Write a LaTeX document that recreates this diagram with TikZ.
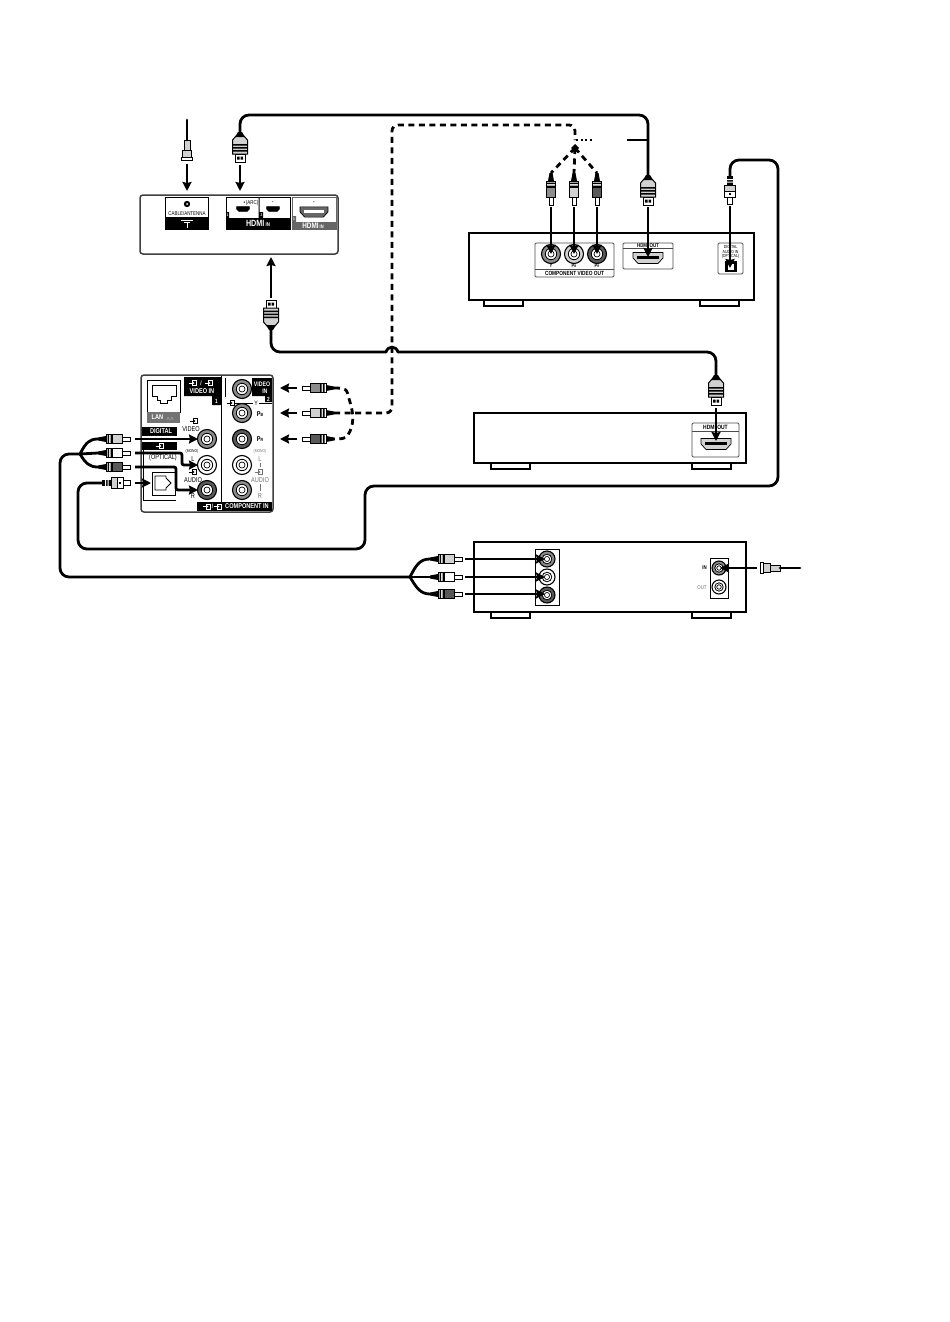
\documentclass[tikz,border=0pt]{standalone}
\usepackage{fontspec}
\setmainfont{Liberation Sans}
\usetikzlibrary{arrows.meta}
\definecolor{midg}{gray}{0.55}
\definecolor{darkg}{gray}{0.35}
\definecolor{lightg}{gray}{0.82}
\tikzset{
  cable/.style={line width=2.8pt,black,line cap=round},
  dashcable/.style={line width=2.8pt,black,dash pattern=on 6pt off 4.5pt},
  arr/.style={line width=2.8pt,black,-{Stealth[length=9pt,width=9pt,inset=1pt]}},
  halo/.style={line width=5.5pt,white},
  box/.style={draw=black,line width=2pt,fill=white},
  foot/.style={draw=black,line width=1.6pt,fill=white},
  panel/.style={draw=black!70,line width=.8pt,rounded corners=1.2pt,fill=white},
  tvpanel/.style={draw=black!75,line width=1.5pt,rounded corners=3pt,fill=white},
  blk/.style={fill=black,draw=none},
  lbl/.style={font=\fontsize{#1}{#1}\selectfont,inner sep=0pt,align=center,xscale=.8,transform shape},
  lbl/.default=6,
  wlbl/.style={lbl=#1,text=white,font=\bfseries\fontsize{#1}{#1}\selectfont},
  wlbl/.default=6,
  glbl/.style={lbl=#1,text=black!55},
  glbl/.default=6,
  pics/ringjack/.style args={#1/#2}{code={
    \path[fill=#1,draw=black,line width=1.1pt] (0,0) circle[radius=#2];
    \path[fill=white,draw=black,line width=.8pt] (0,0) circle[radius=#2*.6];
    \path[draw=black,line width=.7pt] (0,0) circle[radius=#2*.32];
  }},
  pics/rca/.style={code={
    \path[fill=black] (-32,-1.5) -- (-24,-3) -- (-24,3) -- (-32,1.5) -- cycle;
    \path[fill=white,draw=black,line width=.7pt] (-8,-2) rectangle (0,2);
    \path[fill=#1,draw=black,line width=.8pt] (-24,-4.5) rectangle (-8,4.5);
    \path[fill=white,draw=black,line width=.6pt] (-24,-4.5) rectangle (-18,4.5);
    \path[fill=black] (-22.5,-4.5) rectangle (-20.8,4.5) (-19.5,-4.5) rectangle (-18,4.5);
    \coordinate (-tail) at (-32,0);
    \coordinate (-tip) at (0,0);
  }},
  pics/hdmiplug/.style={code={
    \path[fill=white,draw=black,line width=1pt] (-8,-5) rectangle (0,5);
    \path[fill=black] (-5.5,-3) rectangle (-2.5,-.5) (-5.5,.5) rectangle (-2.5,3);
    \path[fill=lightg,draw=black,line width=1pt] (-26,-4) -- (-22,-7.5) -- (-8,-7.5) -- (-8,7.5) -- (-22,7.5) -- (-26,4) -- cycle;
    \path[fill=black] (-18,-7.5) rectangle (-16.5,7.5) (-15,-7.5) rectangle (-13.5,7.5) (-12,-7.5) rectangle (-10.5,7.5);
    \path[fill=black] (-30,-2) -- (-25,-5) -- (-25,5) -- (-30,2) -- cycle;
    \coordinate (-tail) at (-30,0);
    \coordinate (-tip) at (0,0);
  }},
  pics/optplug/.style={code={
    \path[fill=white,draw=black,line width=.8pt] (-7,-2.2) rectangle (0,2.2);
    \path[fill=white,draw=black,line width=.9pt] (-19,-5.5) rectangle (-7,5.5);
    \path[fill=lightg,draw=black,line width=.7pt] (-19,-5.5) rectangle (-13,5.5);
    \path[fill=black] (-11,-.8) rectangle (-9.5,.8);
    \path[fill=black] (-28,-3) rectangle (-19,3);
    \path[fill=white] (-25,-3) rectangle (-24,3) (-22.5,-3) rectangle (-21.5,3);
    \coordinate (-tail) at (-28,0);
    \coordinate (-tip) at (0,0);
  }},
  pics/coax/.style={code={
    \path[fill=white,draw=black,line width=.8pt] (-3,-5.5) rectangle (0,5.5);
    \path[fill=lightg,draw=black,line width=.8pt] (-10,-4.5) rectangle (-3,4.5);
    \path[fill=lightg,draw=black,line width=.8pt] (-20,-3) rectangle (-10,3);
    \coordinate (-tail) at (-20,0);
    \coordinate (-tip) at (0,0);
  }},
  pics/hdmiport/.style 2 args={code={
    \path[fill=#1,draw=black,line width=.7pt] (-15,-5.5) -- (15,-5.5) -- (15,0) -- (10,5.5) -- (-10,5.5) -- (-15,0) -- cycle;
    \path[fill=#2] (-11,-2) rectangle (11,1);
  }},
  pics/inicon/.style={code={
    \path[draw=#1,line width=.7pt] (-1,-2.4) rectangle (3.5,2.4);
    \path[draw=#1,line width=.7pt,-{Stealth[length=2.2pt,width=2.8pt]}] (-4.5,0) -- (1.5,0);
  }},
}
\begin{document}
\begin{tikzpicture}[x=1pt,y=-1pt]
\useasboundingbox (0,0) rectangle (950,1322);
\fill[white] (0,0) rectangle (950,1322);

%% ---------- TV top panel ----------
\path[tvpanel] (140,195) rectangle (338,254);
\path[draw=black,fill=white,line width=.6pt] (165,197) rectangle (208,229);
\path[blk] (165,217) rectangle (208,229);
\path[fill=black] (187,204) circle[radius=3.2];
\path[fill=white] (187,204) circle[radius=1];
\node[lbl=5.6] (tCable) at (187,213) {CABLE/ANTENNA};
\path[draw=white,line width=1pt] (181,220) -- (193,220) (184,222) -- (190,222) (187,222) -- (187,228);
\path[draw=black,line width=.6pt] (226,197) rectangle (290,229);
\path[blk] (226,218) rectangle (290,229) (226,212) rectangle (229,218) (258.5,197) rectangle (259.5,218) (259.5,212) rectangle (263,218);
\node[wlbl=4] (tOne) at (227.5,214.8) {1};
\node[wlbl=4] (tTwo) at (261.5,214.8) {2};
\pic[scale=.42] at (243,209) {hdmiport={black}{black}};
\pic[scale=.42] at (273,209) {hdmiport={black}{black}};
\node[lbl=5.6] (tArc) at (251,203.5) {\textbullet\,(ARC)};
\node[lbl=4] (tDot) at (273,203) {\textbullet};
\node[wlbl=9] (tHdmiA) at (258,223.7) {HDMI\,\fontsize{5.5}{5.5}\selectfont IN};
\path[draw=black!60,line width=.6pt,fill=white] (292,197) rectangle (336,229);
\path[fill=black!60] (292,222) rectangle (336,229) (292,216) rectangle (296,222);
\pic[scale=.93] at (314,212) {hdmiport={black!60}{white}};
\node[lbl=4] (tDotB) at (314,203) {\textbullet};
\node[wlbl=8] (tHdmiB) at (313,225.7) {HDMI\,\fontsize{5}{5}\selectfont IN};
\node[wlbl=3.5] (tThree) at (294,219) {3};

%% ---------- TV side panel ----------
\path[tvpanel] (141,375) rectangle (273,512);
\path[draw=black,line width=.9pt] (221,376) -- (221,504);
\path[draw=black,line width=.8pt,fill=white] (147,380) rectangle (180,412);
\path[fill=black!55] (147,412) rectangle (180,423);
\path[draw=black,line width=.7pt] (152,385) -- (176,385) -- (176,396) -- (171,396) -- (171,400) -- (167,400) -- (167,403) -- (160,403) -- (160,400) -- (157,400) -- (157,396) -- (152,396) -- cycle;
\node[wlbl=7] (tLan) at (163,417.5) {LAN\ \ ${}_{\scriptscriptstyle\wedge\wedge}$};
\path[blk] (184,377) rectangle (221,396) (212,396) rectangle (221,405);
\pic at (193,383) {inicon=white};
\node[wlbl=6] (tSl) at (201,383) {/};
\pic at (209,383) {inicon=white};
\node[wlbl=7] (tVidIn) at (202,391) {VIDEO IN};
\node[wlbl=6] (tVOne) at (216.5,401) {1};
\path[blk] (142,427) rectangle (177,450);
\node[wlbl=7] (tDig) at (161,431) {DIGITAL};
\node[wlbl=6] (tAudioOut) at (160,438) {AUDIO OUT};
\pic at (160,446) {inicon=white};
\node[lbl=7] (tOpt) at (163,458) {(OPTICAL)};
\path[draw=black,line width=.6pt] (143,450) -- (143,500) -- (176,500);
\path[draw=black,line width=1pt,fill=white] (152,472) rectangle (175,495);
\path[draw=black,line width=.9pt] (155,476) -- (166,476) -- (166,478) -- (171,483) -- (166,488) -- (166,490) -- (155,490) -- cycle;
\pic at (194,421) {inicon=black};
\node[lbl=7] (tVid) at (191,429) {VIDEO};
\node[lbl=4.2] (tMono) at (192,451) {(MONO)};
\node[lbl=7] (tL) at (193,459) {L};
\pic at (193,472) {inicon=black};
\node[lbl=7] (tAud) at (193,480) {AUDIO};
\node[lbl=7] (tR) at (193,496) {R};
\pic at (207,439) {ringjack={midg/9.5}};
\pic at (207,465) {ringjack={white/9.5}};
\pic at (207,490) {ringjack={darkg/9.5}};
\coordinate (jV) at (198,439);
\coordinate (jL) at (198,465);
\coordinate (jR) at (198,490);
\pic at (242,389) {ringjack={midg/9.5}};
\pic at (242,413) {ringjack={midg/9.5}};
\pic at (242,439) {ringjack={darkg/9.5}};
\pic at (242,465) {ringjack={white/9.5}};
\pic at (242,490) {ringjack={black!45/9.5}};
\path[blk] (252,378) rectangle (272,396) (265,396) rectangle (272,402);
\node[wlbl=6.5] (tVI2) at (262,387.5) {VIDEO\\[.5pt]\ \ \ \ IN};
\node[wlbl=6] (tVTwo) at (268.5,399) {2};
\path[draw=black,line width=.6pt] (225,378) -- (225,397);
\path[draw=black,line width=.6pt] (235,403) -- (253,403) (259,403) -- (272,403);
\pic at (231,403) {inicon=black};
\node[lbl=6.5] (tY) at (256,403) {Y};
\node[lbl=7] (tPb) at (260,414) {\textbf{P}\fontsize{4.5}{4.5}\selectfont\textbf{B}};
\node[lbl=7] (tPr) at (260,439) {\textbf{P}\fontsize{4.5}{4.5}\selectfont\textbf{R}};
\node[glbl=4.2] (tMonoB) at (260,451) {(MONO)};
\node[glbl=7] (tLB) at (260,459) {L};
\path[draw=black!55,line width=.5pt] (260,463) -- (260,467) (260,484) -- (260,491);
\pic at (259,472) {inicon={black!55}};
\node[glbl=7] (tAudB) at (260,480) {AUDIO};
\node[glbl=7] (tRB) at (260,496) {R};
\path[blk] (197,502) rectangle (272,511);
\pic at (207,506.5) {inicon=white};
\node[wlbl=6] (tCSl) at (212.5,506.5) {/};
\pic at (218,506.5) {inicon=white};
\node[wlbl=7] (tCompIn) at (247,506.5) {COMPONENT IN};

%% ---------- Player 1 ----------
\path[foot] (484,300) rectangle (523,306);
\path[foot] (700,300) rectangle (739,306);
\path[box] (469,233) rectangle (754,300);
\path[panel] (535,243) rectangle (614,277);
\path[draw=black!70,line width=.7pt] (535,269) -- (614,269);
\pic at (551,254) {ringjack={midg/9.5}};
\pic at (574,254) {ringjack={lightg/9.5}};
\pic at (597,254) {ringjack={darkg/9.5}};
\coordinate (oY) at (551,254);
\coordinate (oB) at (574,254);
\coordinate (oR) at (597,254);
\node[lbl=5] (toY) at (551,265.8) {\textbf{Y}};
\node[lbl=5] (toB) at (574,265.8) {\textbf{P}\fontsize{3.5}{3.5}\selectfont\textbf{B}};
\node[lbl=5] (toR) at (597,265.8) {\textbf{P}\fontsize{3.5}{3.5}\selectfont\textbf{R}};
\node[lbl=6] (tCvo) at (574.5,273) {\textbf{COMPONENT VIDEO OUT}};
\path[panel] (623,243) rectangle (673,269);
\path[draw=black!70,line width=.7pt] (623,248) -- (673,248);
\node[lbl=5.5] (tHo) at (648,245.6) {\textbf{HDMI OUT}};
\pic at (648,258) {hdmiport={lightg}{black}};
\coordinate (oH) at (648,257);
\path[panel] (718,243) rectangle (743,274);
\node[lbl=4.4] (tDao) at (730.5,252) {DIGITAL\\[-.2pt]AUDIO IN\\[-.2pt](OPTICAL)};
\path[fill=black] (725,261) rectangle (737,272);
\path[fill=white] (728,264) rectangle (734,270);
\coordinate (oO) at (730,268);

%% ---------- Player 2 ----------
\path[foot] (491,463) rectangle (530,469);
\path[foot] (692,463) rectangle (731,469);
\path[box] (474,413) rectangle (746,463);
\path[panel] (692,423) rectangle (739,457);
\path[draw=black!70,line width=.7pt] (692,431) -- (739,431);
\node[lbl=6.2] (tHoB) at (715.5,427.2) {\textbf{HDMI OUT}};
\pic at (716,444) {hdmiport={lightg}{black}};
\coordinate (oH2) at (716,441);

%% ---------- Player 3 ----------
\path[foot] (491,612) rectangle (530,618);
\path[foot] (692,612) rectangle (731,618);
\path[box] (474,542) rectangle (746,612);
\path[draw=black,line width=.8pt,fill=white] (535,549) rectangle (559,605);
\pic at (547,559) {ringjack={midg/8}};
\pic at (547,577) {ringjack={white/8}};
\pic at (547,595) {ringjack={darkg/8}};
\coordinate (oA) at (545,559);
\coordinate (oC) at (545,577);
\coordinate (oD) at (545,594);
\path[draw=black,line width=.8pt,fill=white] (710,558) rectangle (728,598);
\pic at (719,568) {ringjack={midg/7}};
\pic at (719,587) {ringjack={white/7}};
\coordinate (oIn) at (720,568);
\node[lbl=5.5] (tIn) at (704.5,568) {\textbf{IN}};
\node[glbl=5.5] (tOut) at (702,588) {OUT};

%% ---------- Plugs ----------
\pic (pCoaxA) at (187,160) [rotate=-90] {coax};
\pic (pHa) at (240,162) [rotate=-90] {hdmiplug};
\pic (pHb) at (648,205) [rotate=-90] {hdmiplug};
\pic (pHc) at (271,300) [rotate=90] {hdmiplug};
\pic (pHd) at (716,405) [rotate=-90] {hdmiplug};
\pic (pOa) at (730,204) [rotate=-90] {optplug};
\pic (pOb) at (130,483) {optplug};
\pic (pY) at (551,205) [rotate=-90] {rca=midg};
\pic (pB) at (574,205) [rotate=-90] {rca=lightg};
\pic (pR) at (597,205) [rotate=-90] {rca=darkg};
\pic (pTa) at (130,439) {rca=lightg};
\pic (pTb) at (130,453) {rca=white};
\pic (pTc) at (130,467) {rca=darkg};
\pic (pCa) at (302,388) [rotate=180] {rca=midg};
\pic (pCb) at (302,413) [rotate=180] {rca=lightg};
\pic (pCc) at (302,439) [rotate=180] {rca=darkg};
\pic (pDa) at (462,559) {rca=lightg};
\pic (pDb) at (462,577) {rca=white};
\pic (pDc) at (462,594) {rca=darkg};
\pic (pCoaxB) at (760,568) [rotate=180] {coax};

%% ---------- Named free ends ----------
\coordinate (coaxTop) at (187,120);
\coordinate (coaxEnd) at (800,568);
\coordinate (tvTop) at (271,257);
\coordinate (hubTop) at (575,148);
\coordinate (dashEnd) at (575,140);
\coordinate (leader) at (627,140);
\coordinate (leaderEnd) at (648,140);
\coordinate (join) at (80,454);
\coordinate (joinD) at (410,577);
\coordinate (humpA) at (386,352);
\coordinate (humpB) at (398,352);

%% ---------- Cables ----------
\draw[cable] (coaxTop) -- (pCoaxA-tail);
\draw[cable,rounded corners=9pt] (pHa-tail) -- (240,115) -- (648,115) -- (pHb-tail);
\draw[line width=1.5pt] (leader) -- (leaderEnd);
\draw[cable,rounded corners=9pt] (pHc-tail) -- (271,352) -- (humpA);
\draw[cable] (humpA) .. controls (388,345.5) and (396,345.5) .. (humpB);
\draw[cable,rounded corners=9pt] (humpB) -- (716,352) -- (pHd-tail);
\draw[cable,rounded corners=9pt] (pOa-tail) -- (730,160) -- (778,160) -- (778,486) -- (365,486) -- (365,549) -- (78,549) -- (78,483) -- (pOb-tail);
\draw[cable,rounded corners=9pt] (joinD) -- (60,577) -- (60,454) -- (join);
\draw[cable] (join) -- (pTb-tail);
\draw[cable] (join) .. controls (86,442) and (90,439) .. (pTa-tail);
\draw[cable] (join) .. controls (86,464) and (90,467) .. (pTc-tail);
\draw[cable] (joinD) -- (pDb-tail);
\draw[cable] (joinD) .. controls (416,565) and (420,559) .. (pDa-tail);
\draw[cable] (joinD) .. controls (416,587) and (420,594) .. (pDc-tail);
\draw[cable] (pCoaxB-tail) -- (coaxEnd);

%% ---------- Dashed cables ----------
\draw[dashcable,rounded corners=6pt] (pCb-tail) -- (392,413) -- (392,125) -- (575,125) -- (dashEnd);
\draw[line width=2.6pt,dash pattern=on 2pt off 2.5pt] (dashEnd) ++(1,0) -- ++(17,0);
\draw[dashcable] (pCa-tail) .. controls (350,388) and (346,391) .. (350,402) .. controls (354,415) and (354,425) .. (348,435) .. controls (346,439) and (340,439) .. (pCc-tail);
\draw[dashcable] (hubTop) -- (pY-tail);
\draw[dashcable] (hubTop) -- (pB-tail);
\draw[dashcable] (hubTop) -- (pR-tail);
\path[fill=black] (575,144) -- (579,148) -- (575,152) -- (571,148) -- cycle;

%% ---------- Arrows ----------
\draw[arr] ([yshift=-4pt]pCoaxA-tip) -- (187,191);
\draw[arr] ([yshift=-3pt]pHa-tip) -- (240,191);
\draw[arr] ([yshift=2pt]pHc-tip) -- (tvTop);
\draw[arr] ([yshift=-2pt]pHb-tip) -- (oH);
\draw[arr] ([yshift=-3pt]pHd-tip) -- (oH2);
\draw[arr] ([yshift=-2pt]pOa-tip) -- (oO);
\draw[arr] ([yshift=-2pt]pY-tip) -- (oY);
\draw[arr] ([yshift=-2pt]pB-tip) -- (oB);
\draw[arr] ([yshift=-2pt]pR-tip) -- (oR);
\draw[halo] ([xshift=12pt]pTa-tip) -- (178,439);
\draw[arr] ([xshift=5pt]pTa-tip) -- (jV);
\draw[arr,rounded corners=2pt] ([xshift=5pt]pTb-tip) -- (182,453) -- (182,465) -- (jL);
\draw[arr,rounded corners=2pt] ([xshift=5pt]pTc-tip) -- (176,467) -- (176,490) -- (jR);
\draw[arr] ([xshift=5pt]pOb-tip) -- (151,483);
\draw[arr] ([xshift=-5pt]pCa-tip) -- (280,388);
\draw[arr] ([xshift=-5pt]pCb-tip) -- (280,413);
\draw[arr] ([xshift=-5pt]pCc-tip) -- (280,439);
\draw[arr] ([xshift=3pt]pDa-tip) -- (oA);
\draw[arr] ([xshift=3pt]pDb-tip) -- (oC);
\draw[arr] ([xshift=3pt]pDc-tip) -- (oD);
\draw[arr] ([xshift=-3pt]pCoaxB-tip) -- (oIn);
\end{tikzpicture}
\end{document}
